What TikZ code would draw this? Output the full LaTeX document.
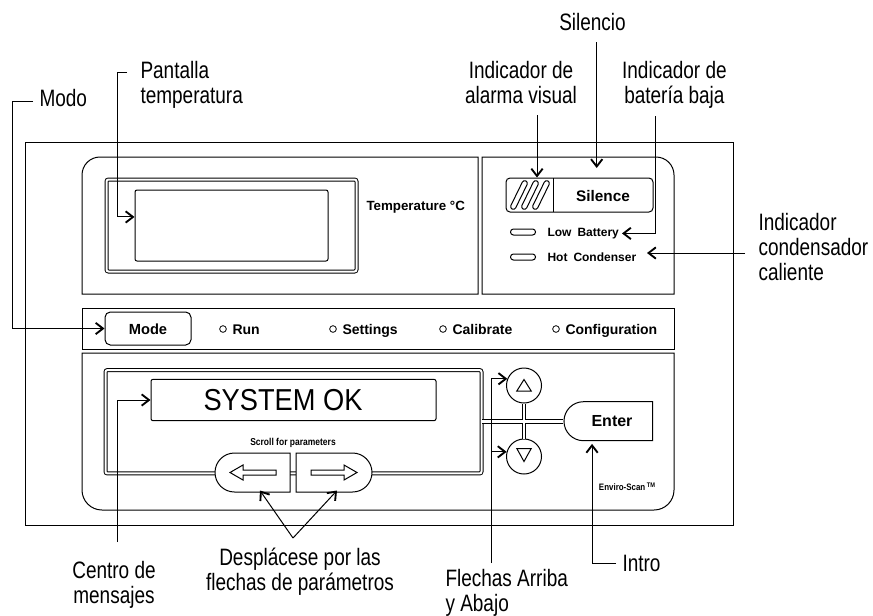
\documentclass[tikz,border=0pt]{standalone}
\usepackage{fontspec}
\setmainfont{Liberation Sans}
\newfontfamily\labf[FakeStretch=0.8]{Liberation Sans}
\newfontfamily\sysf[FakeStretch=0.9]{Liberation Sans}
\newfontfamily\panf{Liberation Sans}
\newfontfamily\panc[FakeStretch=0.85]{Liberation Sans}
\usetikzlibrary{arrows.meta,shapes.misc}
\begin{document}
\begin{tikzpicture}[x=0.75pt,y=-0.75pt,line width=0.75pt,
  lab/.style={font=\labf\fontsize{17.8}{18.4}\selectfont,inner sep=0pt},
  pan/.style={font=\panf\bfseries\fontsize{10.5}{12}\selectfont,inner sep=0pt},
  arr/.style={-{Straight Barb[length=5.5pt,width=8.5pt,line width=1.4pt]}},
  dframe/.style={draw,double,double distance=1.5pt,rounded corners=1.5pt,inner sep=0pt},
  box/.style={draw,inner sep=0pt,rounded corners=1.5pt},
  led/.style={draw,rounded corners=2.2pt,minimum width=18.75pt,minimum height=4.5pt,inner sep=0pt},
  hatch/.style={draw,rounded corners=2pt,minimum width=23.5pt,minimum height=4pt,inner sep=0pt,rotate=64},
  dot/.style={draw,circle,minimum size=5pt,inner sep=0pt,line width=0.6pt},
  btn/.style={draw,fill=white,inner sep=0pt,rounded rectangle},
  rbtn/.style={draw,fill=white,circle,minimum size=26.25pt,inner sep=0pt}
]
\useasboundingbox (0,0) rectangle (873,615);

% ---------- panels ----------
\draw (25,142) rectangle (733,525);
\draw (478,294) -- (82,294) -- (82,200) [rounded corners=13.5pt] -- (82,157) -- (300,157) [sharp corners] -- (478,157) -- cycle;
\draw (482,294) -- (482,157) -- (550,157) [rounded corners=13.5pt] -- (674,157) -- (674,220) [sharp corners] -- (674,294) -- cycle;
\draw (82,308) rectangle (674,349);
\draw (674,353) -- (82,353) -- (82,420) [rounded corners=15pt] -- (82,510) -- (674,510) -- (674,420) [sharp corners] -- (674,353) -- cycle;

% ---------- temperature display ----------
\node[dframe,minimum width=187.5pt,minimum height=69pt] (tframe) at (231.5,225.5) {};
\node[box,minimum width=144.75pt,minimum height=53.25pt] (tscreen) at (231.5,225.5) {};
\node[pan,font=\panf\bfseries\fontsize{10}{12}\selectfont,anchor=base west] (ttext) at (366,210) {Temperature °C};

% ---------- alarm / silence ----------
\node[box,rounded corners=3pt,minimum width=110.25pt,minimum height=25.5pt] (silbox) at (579.5,195) {};
\draw (553,178) -- (553,212);
\node[hatch] (h1) at (519,195) {};
\node[hatch] (h2) at (530,195) {};
\node[hatch] (h3) at (541,195) {};
\node[pan,font=\panf\bfseries\fontsize{11.5}{13}\selectfont,anchor=base] (silt) at (603,201) {Silence};
\node[led] (led1) at (523,232) {};
\node[led] (led2) at (523,257) {};
\node[pan,font=\panf\bfseries\fontsize{9}{11}\selectfont,anchor=base west] (lowbat) at (547,236.3) {Low\hspace{0.5em}Battery};
\node[pan,font=\panf\bfseries\fontsize{9}{11}\selectfont,anchor=base west] (hotc) at (547,261.3) {Hot\hspace{0.5em}Condenser};

% ---------- mode row ----------
\node[draw,rounded corners=4pt,minimum width=64.5pt,minimum height=24.75pt,inner sep=0pt] (modebtn) at (148,328.5) {};
\node[pan,font=\panf\bfseries\fontsize{11}{13}\selectfont,anchor=base] (modet) at (148,334) {Mode};
\node[dot] (d1) at (223,329) {};
\node[pan,anchor=base west] (run) at (232,334) {Run};
\node[dot] (d2) at (333,329) {};
\node[pan,anchor=base west] (sett) at (342,334) {Settings};
\node[dot] (d3) at (443,329) {};
\node[pan,anchor=base west] (cal) at (452,334) {Calibrate};
\node[dot] (d4) at (556,329) {};
\node[pan,anchor=base west] (conf) at (565,334) {Configuration};

% ---------- message centre ----------
\node[dframe,minimum width=282pt,minimum height=77.6pt] (msgframe) at (293.5,421.75) {};
\node[box,minimum width=213.75pt,minimum height=31pt] (msgbox) at (293.5,400) {};
\node[inner sep=0pt,font=\sysf\fontsize{22.7}{26}\selectfont,anchor=base] (sysok) at (283,410) {SYSTEM OK};
\node[inner sep=0pt,font=\panc\bfseries\fontsize{7.5}{9}\selectfont] (scrt) at (293,443) {Scroll for parameters};
\node[btn,rounded rectangle east arc=none,minimum width=56.25pt,minimum height=29.25pt] (lscroll) at (252.5,472.5) {};
\node[btn,rounded rectangle west arc=none,minimum width=57pt,minimum height=29.25pt] (rscroll) at (334,472.5) {};
\draw (230,472.5) -- (243,465) -- (243,470) -- (276,470) -- (276,475) -- (243,475) -- (243,480) -- cycle;
\draw (357,472.5) -- (344,465) -- (344,470) -- (311,470) -- (311,475) -- (344,475) -- (344,480) -- cycle;

% ---------- up / down / enter ----------
\node[rbtn] (up) at (524,385.5) {};
\node[rbtn] (down) at (524,456.5) {};
\draw (524,379.5) -- (516.8,391) -- (531.2,391) -- cycle;
\draw (516.8,448.5) -- (531.2,448.5) -- (524,461.5) -- cycle;
\node[btn,rounded rectangle east arc=none,minimum width=66.5pt,minimum height=29.25pt] (enter) at (608.3,421.2) {};
\node[inner sep=0pt,font=\panf\bfseries\fontsize{12}{14}\selectfont,anchor=base] (entert) at (612,426) {Enter};
\draw[double,double distance=2pt] (up.south) -- (down.north) (msgframe.east |- enter.west) -- (enter.west);
\node[inner sep=0pt,font=\panc\bfseries\fontsize{7}{8}\selectfont] (envs) at (627,487) {Enviro-Scan\,\raisebox{2.5pt}{\fontsize{5}{5}\selectfont TM}};

% ---------- labels (base = baseline of last line) ----------
\node[lab,anchor=base west] (modo) at (39,106) {Modo};
\node[lab,anchor=base west,align=left] (pant) at (140,103.3) {Pantalla\\temperatura};
\node[lab,anchor=base,align=center] (alarm) at (521,103.3) {Indicador de\\alarma visual};
\node[lab,anchor=base] (silen) at (592.5,30) {Silencio};
\node[lab,anchor=base,align=center] (bat) at (674.4,103.3) {Indicador de\\batería baja};
\node[lab,anchor=base west,align=left] (cond) at (758,280) {Indicador\\condensador\\caliente};
\node[lab,anchor=base,align=center] (cent) at (114,603.3) {Centro de\\mensajes};
\node[lab,anchor=base,align=center] (despl) at (300,590) {Desplácese por las\\flechas de parámetros};
\node[lab,anchor=base west,align=left] (flech) at (445,611) {Flechas Arriba\\y Abajo};
\node[lab,anchor=base west] (intro) at (622,571) {Intro};

% ---------- connectors ----------
\coordinate (modoS) at (33,101);
\draw[arr] (modoS) -- (12,101) |- (modebtn.west);
\coordinate (pantS) at (127,72);
\draw[arr] (pantS) -- (117,72) |- ([yshift=6.4pt]tscreen.west);
\coordinate (alarmS) at (537,115);
\draw[arr] (alarmS) -- (alarmS |- silbox.north);
\coordinate (silS) at (596.7,42);
\draw[arr] (silS) -- ++(0,126);
\coordinate (batS) at (655,116);
\draw[arr] (batS) |- ([xshift=2pt]lowbat.east);
\coordinate (condS) at (745,253);
\coordinate (condT) at (647,253);
\draw[arr] (condS) -- (condT);
\coordinate (centS) at (117,542);
\draw[arr] (centS) |- (msgbox.west);
\coordinate (scrS) at (293,538);
\draw[arr] (scrS) -- ([xshift=5.6pt,yshift=1.5pt]lscroll.south);
\draw[arr] (scrS) -- ([xshift=2.25pt,yshift=1.5pt]rscroll.south);
\coordinate (flS) at (491.6,563);
\draw[arr] (flS) |- (up.158);
\draw[arr] (flS |- down.165) -- (down.165);
\coordinate (intS) at (616,563);
\draw[arr] (intS) -| ([xshift=-12.2pt,yshift=-2pt]enter.south);
\end{tikzpicture}
\end{document}
